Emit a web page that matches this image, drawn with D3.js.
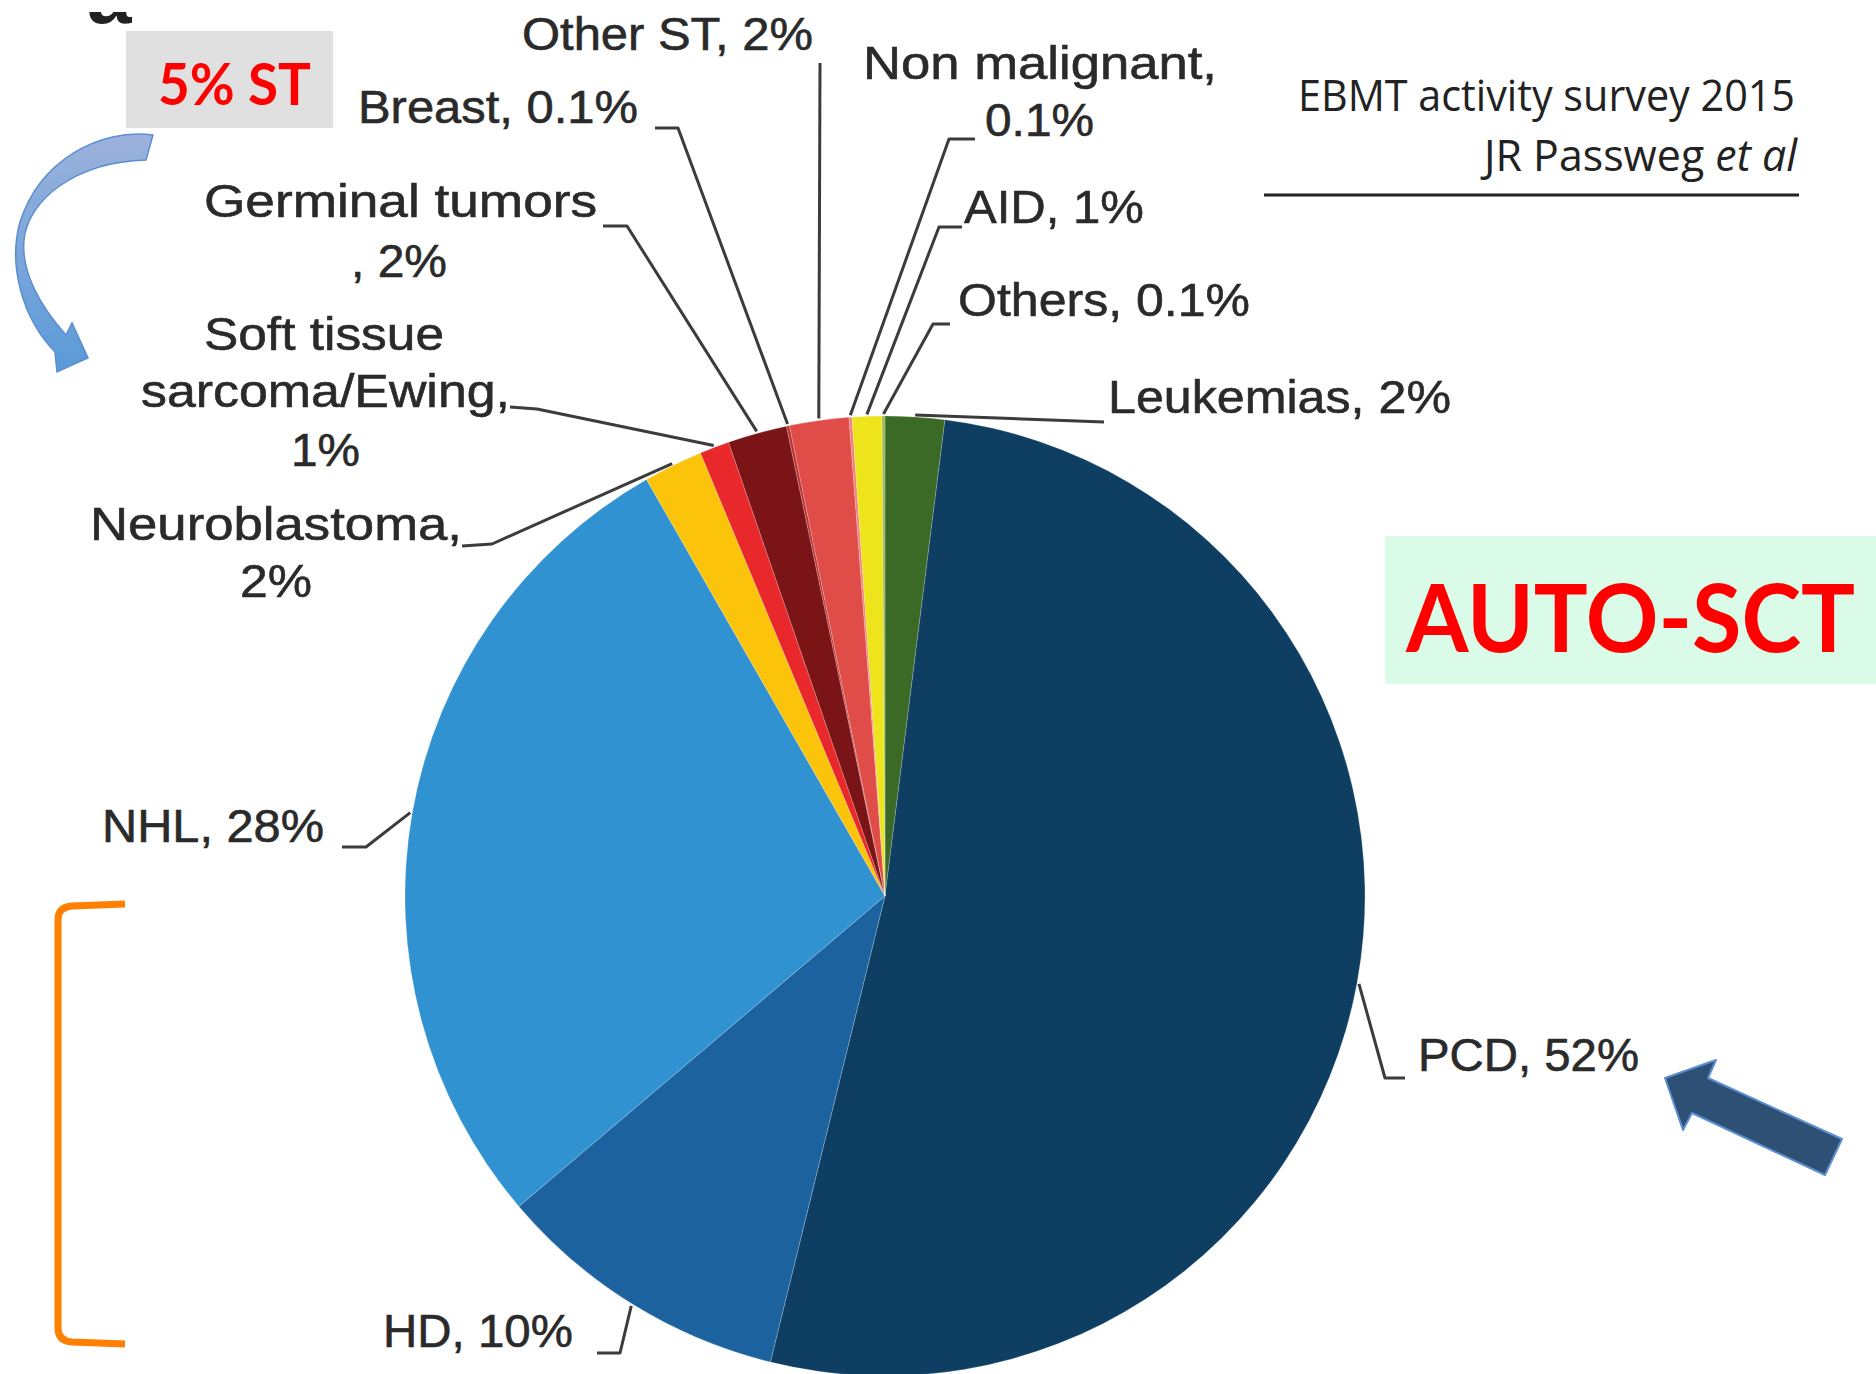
<!DOCTYPE html>
<html>
<head>
<meta charset="utf-8">
<script src="https://cdn.jsdelivr.net/npm/d3@7"></script>
<style>
    body { margin: 0; background: #fff; }
    .slice-label { font-family: "Liberation Sans", Arial, sans-serif; font-size: 47px; fill: #2a2a2a;
        stroke: #2a2a2a; stroke-width: 0.6px; }
    .note { font-family: Lato, "Open Sans", sans-serif; font-weight: bold; fill: #ff0000; }
    .source { font-family: "Open Sans", "Noto Sans", sans-serif; font-size: 43px; fill: #222; }
</style>
</head>
<body>
<div id="chart"></div>
<script>

// Data (EBMT activity survey 2015, AUTO-SCT indications)
var categories = ["Leukemias", "PCD", "HD", "NHL", "Neuroblastoma", "Soft tissue sarcoma/Ewing",
    "Germinal tumors", "Breast", "Other ST", "Non malignant", "AID", "Others"];
var shares = [2, 52, 10, 28, 2, 1, 2, 0.1, 2, 0.1, 1, 0.1];
var labelText = [
    ["Leukemias, 2%"],
    ["PCD, 52%"],
    ["HD, 10%"],
    ["NHL, 28%"],
    ["Neuroblastoma,", "2%"],
    ["Soft tissue", "sarcoma/Ewing,", "1%"],
    ["Germinal tumors", ", 2%"],
    ["Breast, 0.1%"],
    ["Other ST, 2%"],
    ["Non malignant,", "0.1%"],
    ["AID, 1%"],
    ["Others, 0.1%"]
];

var sliceColors = ["#3b6a27", "#0f3e63", "#1c629e", "#3192d1", "#fcc30b", "#e8282a",
    "#7b1416", "#b83232", "#e04c48", "#f08080", "#ede41b", "#9bbb59"];

// where each label sits: line start x, baseline y, width; leader elbow points
var labelLayout = [
    { lines: [[1108, 413, 343]], leader: [[1104, 422]] },
    { lines: [[1418, 1071, 221]], leader: [[1405, 1078], [1385, 1078]] },
    { lines: [[383, 1347, 190]], leader: [[597, 1353], [620, 1353]] },
    { lines: [[102, 842, 222]], leader: [[342, 847], [366, 847]] },
    { lines: [[90, 540, 372], [240, 597, 72]], leader: [[462, 546], [492, 544]] },
    { lines: [[204, 350, 240], [141, 407, 369], [291, 466, 69]], leader: [[510, 407], [537, 409]] },
    { lines: [[204, 217, 393], [351, 277, 96]], leader: [[603, 226], [627, 226]] },
    { lines: [[358, 123, 280]], leader: [[655, 128], [678, 128]] },
    { lines: [[522, 50, 291]], leader: [[820, 63]] },
    { lines: [[863, 79, 354], [985, 136, 109]], leader: [[975, 139], [949, 139]] },
    { lines: [[964, 223, 180]], leader: [[962, 227], [939, 227]] },
    { lines: [[958, 316, 292]], leader: [[950, 324], [933, 324]] }
];

var width = 1876, height = 1374;
var cx = 885, cy = 896, radius = 480;

var svg = d3.select("#chart").append("svg")
    .attr("width", width)
    .attr("height", height);

svg.append("rect")
    .attr("width", width)
    .attr("height", height)
    .attr("fill", "#fff");

var defs = svg.append("defs");

var grad = defs.append("linearGradient")
    .attr("id", "curveGrad")
    .attr("x1", 0).attr("y1", 0).attr("x2", 0).attr("y2", 1);
grad.append("stop").attr("offset", "0%").attr("stop-color", "#9cb2dc");
grad.append("stop").attr("offset", "100%").attr("stop-color", "#5a9ad8");

defs.append("clipPath")
    .attr("id", "topClip")
    .append("rect")
    .attr("x", 0).attr("y", 12)
    .attr("width", 300).attr("height", 40);

// cut-off panel letter at the very top
svg.append("text")
    .attr("clip-path", "url(#topClip)")
    .attr("x", 87)
    .attr("y", 23)
    .style("font-family", "Liberation Sans, Arial, sans-serif")
    .style("font-weight", "bold")
    .style("font-size", "80px")
    .style("fill", "#222")
    .text("a");

// Pie
var colorScale = d3.scaleOrdinal()
    .domain(categories)
    .range(sliceColors);

var pie = d3.pie()
    .sort(null)
    .value(function(d) { return d; });

var arcs = pie(shares);

var arc = d3.arc()
    .innerRadius(0)
    .outerRadius(radius);

var edgeArc = d3.arc()
    .innerRadius(radius + 2)
    .outerRadius(radius + 2);

var pieG = svg.append("g")
    .attr("transform", "translate(" + cx + "," + cy + ")");

pieG.selectAll(".slice")
    .data(arcs)
    .enter().append("path")
    .attr("class", "slice")
    .attr("d", arc)
    .attr("fill", function(d, i) { return colorScale(categories[i]); })
    .attr("stroke", "rgba(255,255,255,0.2)")
    .attr("stroke-width", 1);

// Leader lines
var line = d3.line();

svg.selectAll(".leader")
    .data(arcs)
    .enter().append("path")
    .attr("class", "leader")
    .attr("d", function(d, i) {
        var p = edgeArc.centroid(d);
        var pts = labelLayout[i].leader.concat([[cx + p[0], cy + p[1]]]);
        return line(pts);
    })
    .attr("fill", "none")
    .attr("stroke", "#3c3c3c")
    .attr("stroke-width", 3)
    .attr("stroke-linejoin", "round");

// Labels
labelText.forEach(function(lines, i) {
    lines.forEach(function(t, j) {
        var pos = labelLayout[i].lines[j];
        svg.append("text")
            .attr("class", "slice-label")
            .attr("x", pos[0])
            .attr("y", pos[1])
            .attr("textLength", pos[2])
            .attr("lengthAdjust", "spacingAndGlyphs")
            .text(t);
    });
});

// Source note, top right
svg.append("text")
    .attr("class", "source")
    .attr("x", 1298)
    .attr("y", 111)
    .attr("textLength", 497)
    .attr("lengthAdjust", "spacingAndGlyphs")
    .text("EBMT activity survey 2015");

var src2 = svg.append("text")
    .attr("class", "source")
    .attr("x", 1484)
    .attr("y", 171)
    .attr("textLength", 313)
    .attr("lengthAdjust", "spacingAndGlyphs");
src2.append("tspan").text("JR Passweg ");
src2.append("tspan").style("font-style", "italic").text("et al");

svg.append("line")
    .attr("x1", 1264).attr("x2", 1799)
    .attr("y1", 195).attr("y2", 195)
    .attr("stroke", "#222")
    .attr("stroke-width", 3);

// "5% ST" box and curved arrow
svg.append("rect")
    .attr("x", 126).attr("y", 31)
    .attr("width", 207).attr("height", 97)
    .attr("fill", "#e0e0e0");

svg.append("text")
    .attr("class", "note")
    .attr("x", 158)
    .attr("y", 105)
    .attr("textLength", 153)
    .attr("lengthAdjust", "spacingAndGlyphs")
    .style("font-size", "58px")
    .text("5% ST");

svg.append("path")
    .attr("d", "M153,135 C100,128 40,160 20,222 C8,265 22,318 55,352 L57,372 L88,358 L72,323 L66,335 " +
        "C40,306 21,272 24,240 C28,200 75,162 146,160 Z")
    .attr("fill", "url(#curveGrad)")
    .attr("stroke", "#5b8ed0")
    .attr("stroke-width", 1.5);

// orange bracket
svg.append("path")
    .attr("d", "M125,904 L72,906 Q58,907 58,920 L58,1328 Q58,1341 72,1342 L125,1344")
    .attr("fill", "none")
    .attr("stroke", "#ff7f00")
    .attr("stroke-width", 7)
    .attr("stroke-linecap", "butt");

// AUTO-SCT box
svg.append("rect")
    .attr("x", 1385).attr("y", 536)
    .attr("width", 491).attr("height", 148)
    .attr("fill", "#dafbe8");

svg.append("text")
    .attr("class", "note")
    .attr("x", 1406)
    .attr("y", 652)
    .attr("textLength", 449)
    .attr("lengthAdjust", "spacingAndGlyphs")
    .style("font-size", "93px")
    .text("AUTO-SCT");

// block arrow pointing at PCD
svg.append("path")
    .attr("d", "M1665,1078 L1716,1060 L1708,1078 L1842,1139 L1825,1175 L1692,1113 L1683,1130 Z")
    .attr("fill", "#2e5075")
    .attr("stroke", "#5b8fd0")
    .attr("stroke-width", 2)
    .attr("stroke-linejoin", "round");

</script>
</body>
</html>
